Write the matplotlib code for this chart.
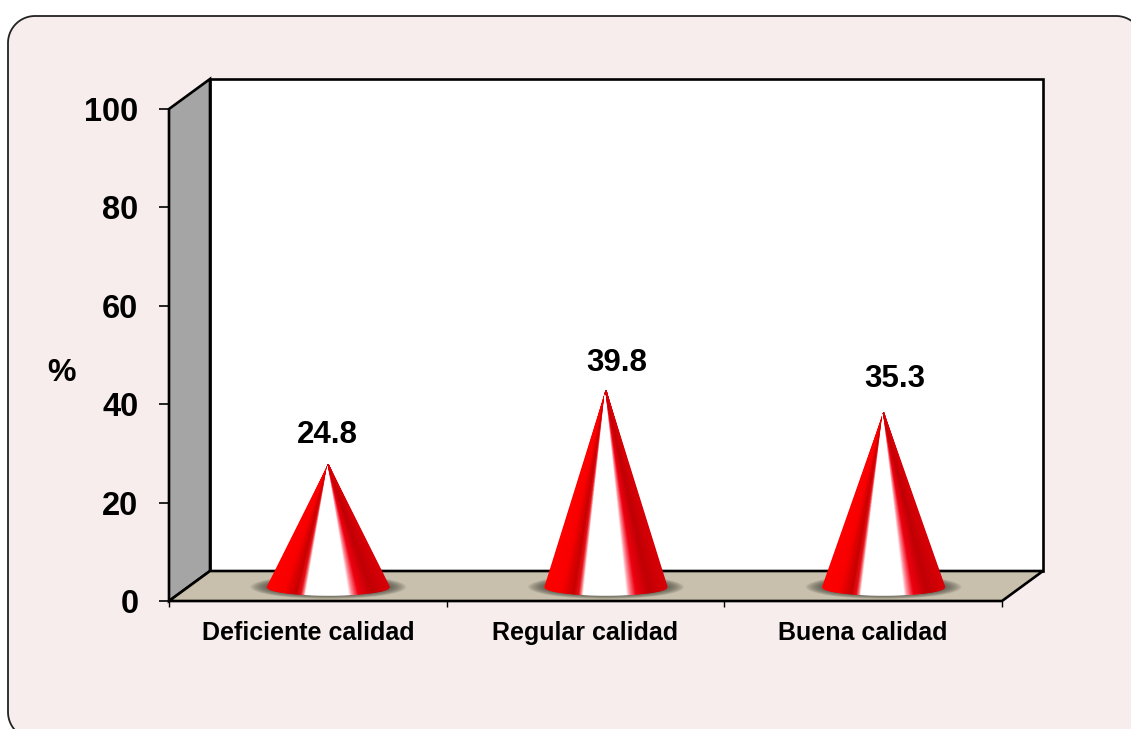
import numpy as np
import matplotlib
matplotlib.use("Agg")
import matplotlib.pyplot as plt
from matplotlib.collections import PolyCollection
from matplotlib.colors import LinearSegmentedColormap
from matplotlib.patches import Ellipse, Polygon

categories = ["Deficiente calidad", "Regular calidad", "Buena calidad"]
values = [24.8, 39.8, 35.3]
y_ticks = [0, 20, 40, 60, 80, 100]

# hand placed value labels, offset from the cone tip in pixels
label_dx = [-1, 11, 11]
label_dy = [30, 28, 34]

W, H = 1131, 729
# plot box of the front plane, in pixels from the top left
LEFT, RIGHT, TOP, BOTTOM = 169, 1002, 109, 601
DEPTH_X, DEPTH_Y = 41, 30

plt.rcParams['font.family'] = ['Liberation Sans', 'DejaVu Sans']
plt.rcParams['font.weight'] = 'bold'

fig = plt.figure(figsize=(W / 100, H / 100), dpi=100, facecolor='white')

# rounded panel behind everything
bg = fig.add_axes([0, 0, 1, 1])
bg.set_xlim(0, W)
bg.set_ylim(H, 0)
bg.axis('off')
r = 27
x0, x1, y0, y1 = 8, 1143, 16, 739
corners = [(x0 + r, y0 + r, 180), (x1 - r, y0 + r, 270), (x1 - r, y1 - r, 0), (x0 + r, y1 - r, 90)]
outline = []
for cx, cy, start in corners:
    t = np.radians(np.linspace(start, start + 90, 24))
    outline += list(zip(cx + r * np.cos(t), cy + r * np.sin(t)))
bg.add_patch(Polygon(outline, closed=True, fc='#f7eded', ec='#222222', lw=1.3))

ax = fig.add_axes([LEFT / W, 1 - BOTTOM / H, (RIGHT - LEFT) / W, (BOTTOM - TOP) / H])
ax.set_xlim(0, 3)
ax.set_ylim(0, 100)
ax.patch.set_alpha(0)
for s in ax.spines.values():
    s.set_visible(False)

# depth offset of the 3D box in data units
dx = DEPTH_X / (RIGHT - LEFT) * 3
dy = DEPTH_Y / (BOTTOM - TOP) * 100
px_x = 3 / (RIGHT - LEFT)
px_y = 100 / (BOTTOM - TOP)

edge = dict(ec='black', lw=1.9, joinstyle='miter', clip_on=False)
ax.add_patch(Polygon([(dx, dy), (3 + dx, dy), (3 + dx, 100 + dy), (dx, 100 + dy)], fc='white', zorder=1, **edge))
ax.add_patch(Polygon([(0, 0), (dx, dy), (dx, 100 + dy), (0, 100)], fc='#a5a5a5', zorder=1, **edge))
ax.add_patch(Polygon([(0, 0), (3, 0), (3 + dx, dy), (dx, dy)], fc='#c8c0ac', zorder=1, **edge))

cone_cmap = LinearSegmentedColormap.from_list("cone", [
    (0.00, '#ff0000'), (0.14, '#f80000'), (0.24, '#c80000'), (0.28, '#e81018'),
    (0.32, '#ffffff'), (0.67, '#ffffff'), (0.71, '#fc7080'), (0.75, '#f00010'),
    (0.86, '#c00004'), (1.00, '#d80006')])

half_w = 61 * px_x
half_h = 8 * px_y

for i, v in enumerate(values):
    xc = i + 0.5 + dx / 2
    yc = dy / 2 - 0.2

    # soft shadow on the floor
    for k in np.linspace(1, 0, 16):
        ax.add_patch(Ellipse((xc, yc), 2 * half_w * (1 + 0.28 * k), 2 * half_h * (1.0 + 0.5 * k),
                             fc='#4a4a40', ec='none', alpha=0.08, zorder=2))

    # cone as a fan of facets from the apex to the front arc of the base
    u = np.linspace(-1, 1, 121)
    arc_y = yc - half_h * np.sqrt(1 - u ** 2)
    arc_x = xc + half_w * u
    facets = [[(xc, yc + v), (arc_x[j], arc_y[j]), (arc_x[j + 1], arc_y[j + 1])] for j in range(len(u) - 1)]
    colors = cone_cmap((u[:-1] + u[1:]) / 4 + 0.5)
    ax.add_collection(PolyCollection(facets, facecolors=colors, edgecolors=colors, linewidths=0.9, zorder=3, clip_on=False))

    ax.text(xc + label_dx[i] * px_x, yc + v + label_dy[i] * px_y, f"{v}", ha='center', va='center',
            fontsize=22.5, fontweight='bold', color='black', zorder=4)

ax.set_yticks(y_ticks)
ax.set_xticks([0, 1, 2, 3])
ax.set_xticklabels([])
ax.tick_params(axis='y', length=7, width=1.2, left=True, labelsize=23.5, pad=15)
ax.tick_params(axis='x', length=4.5, width=1.0, bottom=True)
for i, name in enumerate(categories):
    ax.text(i + 0.5, -6.6, name, ha='center', va='center', fontsize=18, fontweight='bold')

ax.text(-0.386, 46.4, "%", ha='center', va='center', fontsize=23, fontweight='bold')

fig.savefig("out.png", dpi=100)
